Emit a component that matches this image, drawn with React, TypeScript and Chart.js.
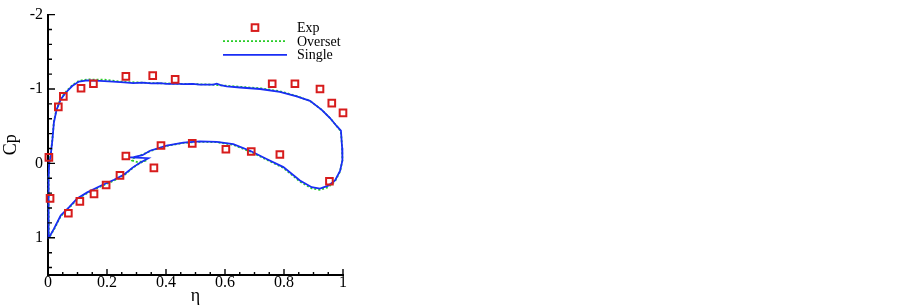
import React, { useEffect, useRef } from 'react';
import { Chart, registerables } from 'chart.js';

Chart.register(...registerables);

// ---------- data ----------
const seriesLabels = ['Exp', 'Overset', 'Single'];

const expEta = [0.003, 0.007, 0.035, 0.052, 0.069, 0.112, 0.108, 0.154, 0.156, 0.197, 0.264, 0.244, 0.264, 0.355, 0.359, 0.383, 0.431, 0.489, 0.603, 0.689, 0.76, 0.786, 0.837, 0.922, 0.962, 1.0, 0.954];
const expCp = [-0.08, 0.47, -0.76, -0.9, 0.67, -1.01, 0.51, -1.07, 0.41, 0.29, -1.17, 0.16, -0.1, -1.18, 0.06, -0.24, -1.13, -0.27, -0.19, -0.16, -1.07, -0.12, -1.07, -1.0, -0.81, -0.68, 0.24];

const singleEta = [0.003, 0.002, 0.002, 0.004, 0.009, 0.015, 0.02, 0.029, 0.043, 0.06, 0.082, 0.105, 0.133, 0.176, 0.22, 0.258, 0.289, 0.32, 0.35, 0.38, 0.402, 0.43, 0.46, 0.49, 0.515, 0.54, 0.56, 0.572, 0.585, 0.606, 0.651, 0.719, 0.786, 0.843, 0.888, 0.928, 0.956, 0.979, 0.993, 0.997, 0.998, 0.99, 0.973, 0.95, 0.922, 0.894, 0.854, 0.798, 0.741, 0.685, 0.628, 0.572, 0.515, 0.459, 0.402, 0.346, 0.32, 0.29, 0.278, 0.34, 0.312, 0.289, 0.258, 0.224, 0.179, 0.133, 0.099, 0.071, 0.043, 0.02, 0.003];
const singleCp = [1.0, 0.6, 0.2, 0.0, -0.1, -0.32, -0.55, -0.72, -0.86, -0.95, -1.04, -1.1, -1.115, -1.11, -1.1, -1.09, -1.08, -1.085, -1.075, -1.08, -1.07, -1.072, -1.065, -1.068, -1.06, -1.058, -1.06, -1.072, -1.052, -1.036, -1.02, -1.0, -0.96, -0.9, -0.84, -0.72, -0.61, -0.5, -0.44, -0.21, -0.04, 0.1, 0.23, 0.3, 0.34, 0.32, 0.23, 0.05, -0.06, -0.17, -0.26, -0.29, -0.295, -0.28, -0.24, -0.17, -0.11, -0.085, -0.08, -0.07, -0.01, 0.05, 0.15, 0.22, 0.3, 0.39, 0.47, 0.59, 0.7, 0.88, 1.0];

const oversetEta = [0.003, 0.002, 0.002, 0.004, 0.009, 0.015, 0.02, 0.029, 0.043, 0.06, 0.082, 0.105, 0.133, 0.19, 0.258, 0.35, 0.45, 0.55, 0.65, 0.72, 0.786, 0.843, 0.888, 0.928, 0.956, 0.979, 0.993, 0.997, 0.998, 0.99, 0.973, 0.95, 0.922, 0.894, 0.854, 0.798, 0.741, 0.685, 0.628, 0.572, 0.515, 0.459, 0.402, 0.346, 0.31, 0.29, 0.285, 0.3, 0.32, 0.335, 0.312, 0.289, 0.258, 0.224, 0.179, 0.133, 0.099, 0.071, 0.043, 0.02, 0.003];
const oversetCp = [1.0, 0.6, 0.2, 0.0, -0.11, -0.33, -0.56, -0.73, -0.87, -0.96, -1.05, -1.11, -1.128, -1.125, -1.095, -1.08, -1.07, -1.06, -1.03, -1.01, -0.97, -0.905, -0.84, -0.72, -0.61, -0.5, -0.43, -0.21, -0.04, 0.11, 0.24, 0.32, 0.355, 0.335, 0.245, 0.06, -0.05, -0.16, -0.25, -0.285, -0.29, -0.275, -0.235, -0.165, -0.1, -0.07, -0.04, -0.02, -0.025, -0.045, -0.005, 0.055, 0.16, 0.23, 0.31, 0.4, 0.48, 0.6, 0.71, 0.89, 1.0];

const xMajorTicks = [0, 0.2, 0.4, 0.6, 0.8, 1];
const yMajorTicks = [-2, -1, 0, 1];
const xMinorStep = 0.05;
const yMinorStep = 0.2;

// ---------- style ----------
const FONT = "'Liberation Serif', 'Times New Roman', serif";
const RED = 'rgb(215,28,28)';
const GREEN = 'rgb(40,205,40)';
const BLUE = 'rgb(25,45,245)';

const toPoints = (xs: number[], ys: number[]) => xs.map((x, i) => ({ x, y: ys[i] }));

const isMajor = (v: number, majors: number[]) => majors.some((m) => Math.abs(m - v) < 1e-6);

const inwardTicks = {
  id: 'inwardTicks',
  afterDraw(chart: any) {
    const { ctx, chartArea } = chart;
    const xs = chart.scales.x;
    const ys = chart.scales.y;
    ctx.save();
    ctx.strokeStyle = '#000';
    ctx.lineWidth = 1.4;
    ctx.beginPath();
    const nx = Math.round((xs.max - xs.min) / xMinorStep);
    for (let i = 0; i <= nx; i++) {
      const v = xs.min + i * xMinorStep;
      const px = xs.getPixelForValue(v);
      const len = isMajor(v, xMajorTicks) ? 6 : 3;
      ctx.moveTo(px, chartArea.bottom);
      ctx.lineTo(px, chartArea.bottom - len);
    }
    const ny = Math.round((ys.max - ys.min) / yMinorStep);
    for (let i = 0; i < ny; i++) {
      const v = ys.min + i * yMinorStep;
      const py = ys.getPixelForValue(v);
      const len = isMajor(v, yMajorTicks) ? 7 : 4;
      ctx.moveTo(chartArea.left, py);
      ctx.lineTo(chartArea.left + len, py);
    }
    ctx.stroke();
    ctx.restore();
  },
};

const plotLegend = {
  id: 'plotLegend',
  afterDraw(chart: any) {
    const { ctx, chartArea } = chart;
    const ds = chart.data.datasets;
    const x0 = chartArea.right - 120;
    const x1 = chartArea.right - 56;
    const tx = chartArea.right - 46;
    const y0 = chartArea.top + 13;
    const gap = 13.6;
    ctx.save();
    ctx.font = `14px ${FONT}`;
    ctx.fillStyle = '#000';
    ctx.textAlign = 'left';
    ctx.textBaseline = 'alphabetic';
    ds.forEach((d: any, i: number) => {
      const cy = y0 + i * gap;
      if (d.showLine) {
        ctx.save();
        ctx.strokeStyle = d.borderColor;
        ctx.lineWidth = d.borderWidth;
        ctx.setLineDash(d.borderDash || []);
        ctx.beginPath();
        ctx.moveTo(x0, cy);
        ctx.lineTo(x1, cy);
        ctx.stroke();
        ctx.restore();
      } else {
        ctx.save();
        ctx.strokeStyle = d.pointBorderColor;
        ctx.lineWidth = d.pointBorderWidth;
        const s = d.pointRadius * Math.SQRT1_2;
        ctx.strokeRect((x0 + x1) / 2 - s, cy - s, 2 * s, 2 * s);
        ctx.restore();
      }
      ctx.fillText(d.label, tx, cy + 4.5);
    });
    ctx.restore();
  },
};

export default function App() {
  const ref = useRef<HTMLCanvasElement | null>(null);

  useEffect(() => {
    document.body.style.margin = '0';
    const canvas = ref.current;
    if (!canvas) return;
    const tickFont = { family: FONT, size: 16 };
    const chart = new Chart(canvas, {
      type: 'scatter',
      data: {
        datasets: [
          {
            label: seriesLabels[0],
            data: toPoints(expEta, expCp),
            showLine: false,
            pointStyle: 'rect',
            pointRadius: 4.7,
            pointBorderWidth: 2,
            pointBorderColor: RED,
            pointBackgroundColor: 'rgba(0,0,0,0)',
            order: 0,
            clip: false,
          },
          {
            label: seriesLabels[1],
            data: toPoints(oversetEta, oversetCp),
            showLine: true,
            borderColor: GREEN,
            borderWidth: 1.8,
            borderDash: [2, 2],
            pointRadius: 0,
            tension: 0,
            order: 2,
            clip: false,
          },
          {
            label: seriesLabels[2],
            data: toPoints(singleEta, singleCp),
            showLine: true,
            borderColor: BLUE,
            borderWidth: 1.8,
            pointRadius: 0,
            tension: 0,
            order: 1,
            clip: false,
          },
        ] as any,
      },
      options: {
        animation: false,
        responsive: false,
        devicePixelRatio: 1,
        layout: { padding: { left: 0, top: 11, right: 560, bottom: 0 } },
        plugins: { legend: { display: false }, tooltip: { enabled: false } },
        scales: {
          x: {
            type: 'linear',
            min: 0,
            max: 1,
            afterFit: (s: any) => {
              s.height = 33;
            },
            afterBuildTicks: (s: any) => {
              s.ticks = xMajorTicks.map((value) => ({ value }));
            },
            ticks: {
              font: tickFont,
              color: '#000',
              padding: -2,
              maxRotation: 0,
              autoSkip: false,
              callback: (v: any) => String(+Number(v).toFixed(2)),
            },
            grid: { display: true, drawOnChartArea: false, drawTicks: false },
            border: { display: true, color: '#000', width: 2 },
            title: { display: true, text: 'η', color: '#000', font: { family: FONT, size: 18 }, padding: { top: 0, bottom: 1 } },
          },
          y: {
            type: 'linear',
            reverse: true,
            min: -2,
            max: 1.5,
            afterFit: (s: any) => {
              s.width = 48;
            },
            afterBuildTicks: (s: any) => {
              s.ticks = yMajorTicks.map((value) => ({ value }));
            },
            ticks: {
              font: tickFont,
              color: '#000',
              padding: 5,
              autoSkip: false,
              callback: (v: any) => String(+Number(v).toFixed(2)),
            },
            grid: { display: true, drawOnChartArea: false, drawTicks: false },
            border: { display: true, color: '#000', width: 2 },
            title: { display: true, text: 'Cp', color: '#000', font: { family: FONT, size: 18 }, padding: 0 },
          },
        },
      } as any,
      plugins: [inwardTicks, plotLegend],
    });
    return () => chart.destroy();
  }, []);

  return (
    <div style={{ width: 903, height: 308, background: '#fff' }}>
      <canvas ref={ref} width={903} height={308} style={{ display: 'block' }} />
    </div>
  );
}
